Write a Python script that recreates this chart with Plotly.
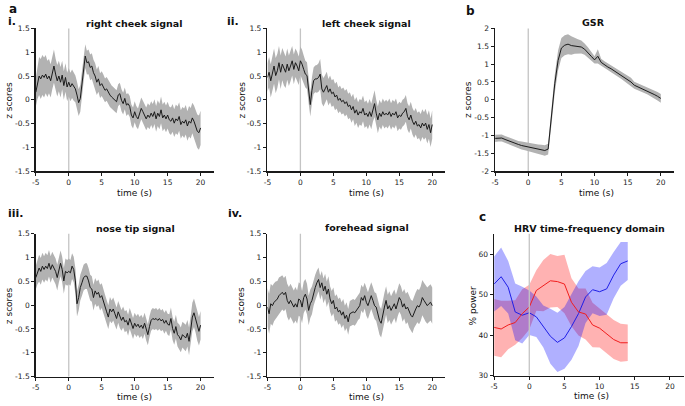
import numpy as np
import plotly.graph_objects as go

W, H = 685, 406

# ---------------- data ----------------
right_cheek_mean = [0.16,0.37,0.5,0.44,0.52,0.47,0.54,0.44,0.5,0.4,0.57,0.71,0.54,0.4,0.5,0.37,0.52,0.3,0.47,0.27,
 0.37,0.27,0.34,0.27,0.23,0.1,-0.06,0.03,0.3,0.64,0.92,0.78,0.8,0.68,0.71,0.57,0.5,0.37,0.44,0.3,
 0.34,0.27,0.2,0.23,0.16,0.1,0.06,0.03,-0.01,-0.04,0.1,0.13,-0.01,-0.08,0.03,-0.11,-0.08,-0.14,-0.32,-0.38,
 -0.25,-0.35,-0.4,-0.28,-0.18,-0.25,-0.32,-0.4,-0.32,-0.37,-0.28,-0.35,-0.25,-0.4,-0.28,-0.35,-0.21,-0.38,-0.32,-0.4,
 -0.32,-0.42,-0.45,-0.38,-0.49,-0.4,-0.44,-0.35,-0.52,-0.45,-0.49,-0.42,-0.55,-0.45,-0.49,-0.38,-0.45,-0.55,-0.66,-0.69,-0.59]
right_cheek_sd = [0.3,0.35,0.4,0.42,0.42,0.42,0.4,0.38,0.36,0.35,0.35,0.35,0.33,0.33,0.32,0.32,0.3,0.3,0.3,0.3,
 0.3,0.3,0.3,0.29,0.28,0.28,0.28,0.28,0.27,0.26,0.25,0.25,0.26,0.27,0.27,0.27,0.27,0.27,0.27,0.26,
 0.26,0.26,0.25,0.25,0.25,0.25,0.24,0.24,0.24,0.24,0.23,0.23,0.23,0.23,0.23,0.23,0.22,0.22,0.22,0.22,
 0.22,0.22,0.22,0.23,0.23,0.23,0.24,0.24,0.25,0.25,0.25,0.26,0.26,0.27,0.27,0.27,0.28,0.28,0.28,0.28,
 0.28,0.28,0.29,0.29,0.29,0.3,0.3,0.3,0.3,0.3,0.31,0.31,0.31,0.32,0.32,0.32,0.33,0.34,0.35,0.36,0.36]

left_cheek_mean = [0.47,0.58,0.4,0.54,0.71,0.51,0.61,0.78,0.58,0.75,0.64,0.58,0.75,0.61,0.71,0.82,0.64,0.78,0.71,0.61,
 0.82,0.75,0.64,0.54,0.51,0.2,-0.1,0.2,0.4,0.44,0.44,0.47,0.54,0.23,0.16,0.23,0.3,0.16,0.23,0.13,
 0.16,0.06,0.1,-0.01,0.03,-0.04,-0.01,-0.08,-0.04,-0.14,-0.11,-0.21,-0.14,-0.28,-0.21,-0.32,-0.25,-0.28,-0.18,-0.32,
 -0.28,-0.35,-0.25,-0.35,-0.18,-0.08,-0.28,-0.42,-0.28,-0.35,-0.25,-0.32,-0.28,-0.32,-0.25,-0.35,-0.28,-0.32,-0.25,-0.38,
 -0.32,-0.35,-0.28,-0.25,-0.18,-0.35,-0.42,-0.32,-0.45,-0.52,-0.45,-0.55,-0.52,-0.59,-0.49,-0.55,-0.49,-0.62,-0.52,-0.69,-0.52]
left_cheek_sd = [0.3,0.32,0.35,0.36,0.37,0.37,0.36,0.35,0.35,0.34,0.34,0.33,0.33,0.32,0.32,0.31,0.31,0.3,0.3,0.3,
 0.3,0.3,0.29,0.28,0.28,0.27,0.25,0.27,0.28,0.28,0.29,0.3,0.32,0.3,0.3,0.29,0.29,0.28,0.28,0.28,
 0.28,0.28,0.28,0.27,0.27,0.27,0.27,0.27,0.27,0.27,0.27,0.27,0.27,0.27,0.27,0.27,0.27,0.27,0.27,0.27,
 0.27,0.27,0.27,0.27,0.28,0.28,0.28,0.28,0.28,0.28,0.28,0.28,0.28,0.28,0.28,0.28,0.28,0.28,0.28,0.28,
 0.28,0.28,0.28,0.28,0.28,0.28,0.28,0.28,0.28,0.28,0.28,0.28,0.28,0.29,0.29,0.29,0.3,0.3,0.3,0.3,0.3]

nose_tip_mean = [0.58,0.71,0.78,0.71,0.82,0.75,0.82,0.77,0.88,0.75,0.85,0.78,0.71,0.58,0.75,0.88,0.75,0.51,0.71,0.68,
 0.71,0.68,0.82,0.75,0.51,0.03,0.16,0.37,0.47,0.58,0.61,0.61,0.51,0.37,0.34,0.16,0.3,0.23,0.27,0.16,
 0.2,0.1,-0.04,-0.14,-0.25,-0.08,-0.14,-0.08,-0.18,-0.28,-0.14,-0.25,-0.32,-0.25,-0.35,-0.32,-0.42,-0.28,-0.38,-0.49,
 -0.38,-0.45,-0.4,-0.47,-0.42,-0.49,-0.38,-0.52,-0.62,-0.45,-0.32,-0.28,-0.3,-0.28,-0.32,-0.28,-0.33,-0.3,-0.38,-0.32,
 -0.4,-0.42,-0.28,-0.49,-0.59,-0.45,-0.62,-0.66,-0.73,-0.62,-0.66,-0.69,-0.59,-0.76,-0.52,-0.25,-0.16,-0.28,-0.45,-0.55,-0.42]
nose_tip_sd = [0.25,0.27,0.28,0.28,0.28,0.28,0.28,0.28,0.28,0.28,0.27,0.27,0.27,0.27,0.27,0.27,0.27,0.27,0.27,0.27,
 0.27,0.27,0.27,0.27,0.27,0.27,0.27,0.27,0.27,0.27,0.27,0.27,0.27,0.27,0.27,0.27,0.27,0.27,0.27,0.27,
 0.26,0.26,0.26,0.25,0.25,0.25,0.24,0.24,0.24,0.23,0.23,0.23,0.22,0.22,0.22,0.22,0.22,0.22,0.22,0.22,
 0.22,0.22,0.22,0.22,0.22,0.22,0.22,0.22,0.22,0.22,0.22,0.22,0.22,0.22,0.22,0.22,0.22,0.22,0.22,0.22,
 0.22,0.23,0.23,0.24,0.24,0.25,0.25,0.26,0.26,0.27,0.27,0.28,0.28,0.29,0.3,0.3,0.3,0.3,0.3,0.3,0.3]

forehead_mean = [-0.04,-0.18,0.03,-0.01,0.06,0.1,0.13,0.2,0.23,0.27,0.22,0.27,0.1,0.03,0.1,0.03,-0.04,0.03,-0.04,0.13,
 0.1,-0.04,0.16,0.23,0.13,-0.11,0.03,0.1,0.27,0.37,0.47,0.54,0.37,0.47,0.3,0.4,0.23,0.34,0.13,0.03,
 0.1,-0.08,-0.04,-0.14,-0.11,-0.21,-0.14,-0.28,-0.21,-0.35,-0.18,-0.16,-0.14,-0.16,-0.11,-0.04,-0.01,0.16,0.1,0.2,
 0.06,-0.01,0.1,0.2,0.1,-0.01,-0.04,-0.18,-0.32,-0.38,-0.18,-0.04,0.1,-0.08,-0.01,-0.11,-0.04,0.03,-0.08,0.06,
 0.16,0.1,-0.04,0.03,-0.08,-0.04,-0.14,-0.21,-0.25,-0.14,-0.08,-0.01,-0.04,0.03,0.16,0.1,0.03,-0.01,0.03,0.06,-0.01]
forehead_sd = [0.4,0.42,0.42,0.42,0.4,0.4,0.38,0.38,0.37,0.36,0.35,0.35,0.35,0.35,0.35,0.35,0.35,0.35,0.35,0.35,
 0.35,0.34,0.33,0.32,0.32,0.31,0.3,0.29,0.28,0.27,0.26,0.25,0.25,0.25,0.26,0.26,0.27,0.27,0.27,0.27,
 0.27,0.27,0.27,0.27,0.27,0.27,0.27,0.27,0.27,0.27,0.27,0.27,0.27,0.27,0.27,0.27,0.27,0.27,0.27,0.27,
 0.28,0.28,0.28,0.28,0.28,0.28,0.29,0.29,0.3,0.3,0.3,0.3,0.3,0.3,0.3,0.3,0.3,0.3,0.3,0.3,
 0.3,0.3,0.31,0.31,0.32,0.32,0.33,0.33,0.34,0.34,0.35,0.35,0.36,0.36,0.37,0.37,0.38,0.38,0.38,0.38,0.38]

gsr_mean = [-1.08,-1.07,-1.07,-1.11,-1.15,-1.18,-1.22,-1.25,-1.28,-1.30,
 -1.31,-1.33,-1.36,-1.38,-1.40,-1.42,-1.38,-0.5,0.45,1.1,
 1.45,1.53,1.56,1.52,1.51,1.50,1.48,1.42,1.33,1.22,
 1.12,1.22,1.05,0.98,0.92,0.87,0.81,0.75,0.69,0.62,
 0.56,0.50,0.41,0.37,0.33,0.29,0.25,0.20,0.15,0.10,0.04]
gsr_sd = [0.1,0.1,0.1,0.1,0.1,0.1,0.1,0.1,0.11,0.11,
 0.12,0.12,0.12,0.13,0.14,0.15,0.15,0.2,0.25,0.28,
 0.28,0.28,0.28,0.26,0.22,0.2,0.18,0.16,0.14,0.12,
 0.1,0.2,0.1,0.1,0.1,0.1,0.1,0.1,0.1,0.1,
 0.1,0.12,0.1,0.1,0.1,0.1,0.1,0.1,0.11,0.12,0.12]

hrv_time = [-5,-4,-3,-2,-1,0,1,2,3,4,5,6,7,8,9,10,11,12,13,14]
hrv_blue = [52.6,54.4,51.8,45.7,44.9,45.5,44.5,42.1,39.7,38.2,39.3,42.1,45.3,49.4,51.2,50.7,51.4,54.8,57.6,58.3]
hrv_blue_sd = [6.8,7.2,6.5,7,7,5.5,5,5.2,6.8,7.3,7.6,8.2,8,6.4,5.8,6,6.4,5.7,5.4,4.7]
hrv_red = [41.9,41.5,42.5,43.1,45.3,46.9,51.0,52.2,53.4,53.2,52.6,48.1,45.7,45.2,42.5,41.7,40.3,38.9,38.1,38.1]
hrv_red_sd = [7,7,6,5.5,6,5.5,5,6.3,6.6,6.3,7.2,5.9,5.8,6.3,5.5,4.8,4.7,4.8,4.7,4.5]

x_ticks = [-5, 0, 5, 10, 15, 20]
face_titles = ["right cheek signal", "left cheek signal", "nose tip signal", "forehead signal"]

# ---------------- figure ----------------
FONT = "DejaVu Sans"
fig = go.Figure()

def px_x(a, b):
    return [a / W, b / W]

def px_y(top, bottom):
    return [1 - bottom / H, 1 - top / H]

def band(axis_n, t, mean, sd, fill):
    t = np.asarray(t, float)
    m = np.asarray(mean, float)
    s = np.asarray(sd, float)
    xa = "x" if axis_n == 1 else f"x{axis_n}"
    ya = "y" if axis_n == 1 else f"y{axis_n}"
    fig.add_trace(go.Scatter(x=np.concatenate([t, t[::-1]]), y=np.concatenate([m + s, (m - s)[::-1]]),
                             fill="toself", fillcolor=fill, line=dict(width=0), mode="lines",
                             hoverinfo="skip", showlegend=False, xaxis=xa, yaxis=ya))
    return t, m, xa, ya

lines_to_add = []
face_data = [(1, right_cheek_mean, right_cheek_sd), (2, left_cheek_mean, left_cheek_sd),
             (4, nose_tip_mean, nose_tip_sd), (5, forehead_mean, forehead_sd)]
for n, m, s in face_data:
    t = np.linspace(-5, 20, len(m))
    tt, mm, xa, ya = band(n, t, m, s, "#b2b2b2")
    lines_to_add.append((tt, mm, xa, ya, "#1a1a1a"))

t_g = np.linspace(-5, 20, len(gsr_mean))
tt, mm, xa, ya = band(3, t_g, gsr_mean, gsr_sd, "#b2b2b2")
lines_to_add.append((tt, mm, xa, ya, "#1a1a1a"))

band(6, hrv_time, hrv_red, hrv_red_sd, "rgba(255,0,0,0.30)")
band(6, hrv_time, hrv_blue, hrv_blue_sd, "rgba(0,0,255,0.31)")
lines_to_add.append((hrv_time, hrv_blue, "x6", "y6", "#1f1fe6"))
lines_to_add.append((hrv_time, hrv_red, "x6", "y6", "#f01e1e"))

for tt, mm, xa, ya, c in lines_to_add:
    fig.add_trace(go.Scatter(x=tt, y=mm, mode="lines", line=dict(color=c, width=1),
                             hoverinfo="skip", showlegend=False, xaxis=xa, yaxis=ya))

axis_common = dict(showline=True, linewidth=1.6, linecolor="#1a1a1a", ticks="outside", ticklen=3,
                   tickwidth=1, tickcolor="#1a1a1a", showgrid=False, zeroline=False,
                   tickfont=dict(family=FONT, size=7.5, color="#222"))

panels = {
    1: dict(x=(32, 211), y=(25, 171), yr=[-1.5, 1.5], yt=[-1.5, -1, -0.5, 0, 0.5, 1, 1.5]),
    2: dict(x=(265, 444), y=(25, 171), yr=[-1.5, 1.5], yt=[-1.5, -1, -0.5, 0, 0.5, 1, 1.5]),
    3: dict(x=(494, 674), y=(25, 171), yr=[-2, 2], yt=[-2, -1.5, -1, -0.5, 0, 0.5, 1, 1.5, 2]),
    4: dict(x=(32, 211), y=(235, 381), yr=[-1.5, 1.5], yt=[-1.5, -1, -0.5, 0, 0.5, 1, 1.5]),
    5: dict(x=(265, 444), y=(235, 381), yr=[-1.5, 1.5], yt=[-1.5, -1, -0.5, 0, 0.5, 1, 1.5]),
    6: dict(x=(493, 684), y=(235, 380), yr=[30, 65], yt=[30, 40, 50, 60]),
}
shapes = []
for n, p in panels.items():
    xk = "xaxis" if n == 1 else f"xaxis{n}"
    yk = "yaxis" if n == 1 else f"yaxis{n}"
    xa = "x" if n == 1 else f"x{n}"
    ya = "y" if n == 1 else f"y{n}"
    fig.layout[xk] = dict(axis_common, domain=px_x(*p["x"]), range=[-5, 22], tickvals=x_ticks,
                          ticktext=[str(v) for v in x_ticks], anchor=ya)
    fig.layout[yk] = dict(axis_common, domain=px_y(*p["y"]), range=p["yr"], tickvals=p["yt"],
                          ticktext=[("%g" % v) for v in p["yt"]], anchor=xa)
    shapes.append(dict(type="line", xref=xa, yref=f"{ya} domain", x0=0, x1=0, y0=0, y1=1,
                       line=dict(color="#c4c4c4", width=1.3), layer=("above" if n == 6 else "below")))

ann = []
def text(x, y, s, size=9, bold=False, angle=0, xanchor="center"):
    ann.append(dict(x=x / W, y=1 - y / H, xref="paper", yref="paper", text=(f"<b>{s}</b>" if bold else s),
                    showarrow=False, textangle=angle, xanchor=xanchor, yanchor="middle",
                    font=dict(family=FONT, size=size, color="#111")))

# panel letters
text(3, 5, "a", 12, True, xanchor="left")
text(2, 18, "i.", 11, True, xanchor="left")
text(222, 18, "ii.", 11, True, xanchor="left")
text(463, 7, "b", 12, True, xanchor="left")
text(2, 214, "iii.", 11, True, xanchor="left")
text(223, 214, "iv.", 11, True, xanchor="left")
text(476, 218, "c", 12, True, xanchor="left")

# titles
text(131, 20, face_titles[0], 9.5, True)
text(365, 20, face_titles[1], 9.5, True)
text(593, 19, "GSR", 9.5, True)
text(132, 230, face_titles[2], 9.5, True)
text(365, 229, face_titles[3], 9.5, True)
text(589, 230, "HRV time-frequency domain", 9.5, True)

# axis titles
for cx, cy in [(131, 193), (365, 193), (596, 193), (131, 402), (365, 402), (591, 401)]:
    text(cx, cy, "time (s)", 9)
for cx, cy in [(5, 98), (239, 98), (467, 98), (5, 308), (239, 308)]:
    text(cx, cy, "z scores", 9, angle=-90)
text(472, 308, "% power", 9, angle=-90)

fig.update_layout(width=W, height=H, margin=dict(l=0, r=0, t=0, b=0), paper_bgcolor="white",
                  plot_bgcolor="white", shapes=shapes, annotations=ann, showlegend=False)

fig.write_html("out.html", config={"displayModeBar": False, "staticPlot": True},
               post_script="document.body.style.margin='0px';document.body.style.padding='0px';"
                           "document.documentElement.style.overflow='hidden';document.body.style.overflow='hidden';")
